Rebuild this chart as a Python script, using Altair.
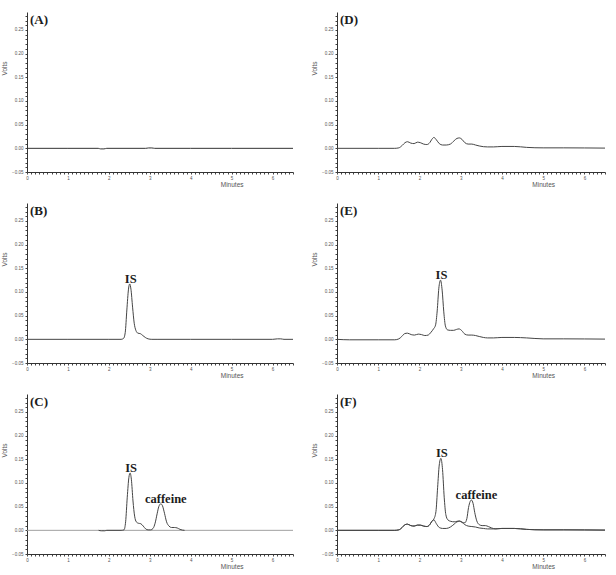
import altair as alt
import pandas as pd

# ---- chromatogram traces: retention time (min) and detector signal (V) ----
a_time = [0.0, 1.0, 1.74, 1.8, 1.88, 1.95, 2.9, 2.97, 3.05, 3.12, 4.0, 5.0, 6.5]
a_volts = [0.0, 0.0, 0.0, -0.0012, -0.0012, 0.0, 0.0, 0.0008, 0.0008, 0.0, 0.0, 0.0, 0.0]

b_time = [0.0, 1.0, 2.0, 2.3, 2.36, 2.4, 2.44, 2.48, 2.51, 2.54, 2.58, 2.62, 2.66, 2.71,
          2.77, 2.83, 2.89, 2.96, 3.05, 3.2, 4.0, 5.0, 6.0, 6.12, 6.2, 6.28, 6.5]
b_volts = [0.0, 0.0, 0.0, 0.0, 0.002, 0.014, 0.062, 0.106, 0.117, 0.106, 0.068, 0.034, 0.019, 0.013,
           0.012, 0.008, 0.004, 0.001, 0.0, 0.0, 0.0, 0.0, 0.0, 0.001, 0.001, 0.0, 0.0]

c_base_time = [0.0, 6.5]
c_base_volts = [0.0, 0.0]
c_time = [1.75, 1.82, 1.9, 1.95, 2.3, 2.37, 2.41, 2.45, 2.49, 2.52, 2.55, 2.59, 2.63, 2.67, 2.72,
          2.78, 2.84, 2.9, 2.96, 3.02, 3.08, 3.13, 3.18, 3.22, 3.27, 3.31, 3.36, 3.41, 3.47, 3.53,
          3.6, 3.67, 3.74, 3.8, 3.85]
c_volts = [0.0, -0.001, -0.001, 0.0, 0.0, 0.001, 0.018, 0.07, 0.112, 0.121, 0.108, 0.062, 0.03, 0.018, 0.015,
           0.014, 0.009, 0.003, 0.001, 0.001, 0.004, 0.015, 0.035, 0.05, 0.056, 0.052, 0.036, 0.018, 0.009, 0.006,
           0.006, 0.005, 0.002, 0.0005, 0.0]

d_time = [0.0, 1.0, 1.4, 1.5, 1.58, 1.65, 1.71, 1.79, 1.87, 1.95, 2.02, 2.1, 2.18, 2.25, 2.3,
          2.35, 2.41, 2.48, 2.56, 2.65, 2.75, 2.84, 2.91, 2.97, 3.03, 3.1, 3.18, 3.27, 3.36, 3.45,
          3.55, 3.65, 3.8, 4.0, 4.3, 4.6, 5.0, 5.5, 6.0, 6.5]
d_volts = [0.0, 0.0, 0.0, 0.001, 0.006, 0.012, 0.014, 0.011, 0.01, 0.013, 0.012, 0.009, 0.008, 0.012, 0.019,
           0.023, 0.018, 0.01, 0.007, 0.007, 0.009, 0.016, 0.021, 0.022, 0.019, 0.012, 0.009, 0.009, 0.007, 0.005,
           0.0035, 0.003, 0.003, 0.004, 0.004, 0.002, 0.001, 0.001, 0.0008, 0.0005]

e_time = [0.0, 0.3, 1.0, 1.4, 1.5, 1.57, 1.64, 1.71, 1.8, 1.88, 1.97, 2.05, 2.13, 2.21, 2.28,
          2.34, 2.39, 2.43, 2.47, 2.51, 2.55, 2.59, 2.63, 2.68, 2.75, 2.83, 2.9, 2.96, 3.03, 3.1,
          3.18, 3.27, 3.36, 3.45, 3.55, 3.65, 3.8, 4.0, 4.3, 4.6, 5.0, 5.5, 6.0, 6.5]
e_volts = [0.0, -0.001, -0.001, -0.001, 0.001, 0.006, 0.012, 0.013, 0.01, 0.009, 0.011, 0.01, 0.008, 0.009, 0.015,
           0.022, 0.03, 0.06, 0.108, 0.125, 0.104, 0.058, 0.028, 0.02, 0.019, 0.019, 0.021, 0.022, 0.018, 0.011,
           0.009, 0.009, 0.008, 0.006, 0.004, 0.003, 0.003, 0.004, 0.004, 0.003, 0.001, 0.001, 0.0008, 0.0005]

# blank plasma run overlaid on the spiked run
f_blank_time = [0.0, 1.0, 1.4, 1.5, 1.58, 1.65, 1.71, 1.79, 1.87, 1.95, 2.02, 2.1, 2.18, 2.25, 2.3,
                2.35, 2.41, 2.48, 2.56, 2.65, 2.75, 2.84, 2.91, 2.97, 3.03, 3.1, 3.18, 3.27, 3.36, 3.45,
                3.55, 3.65, 3.8, 4.0, 4.3, 4.6, 5.0, 5.5, 6.0, 6.5]
f_blank_volts = [0.0, 0.0, 0.0, 0.001, 0.006, 0.012, 0.013, 0.01, 0.009, 0.011, 0.011, 0.009, 0.008, 0.012, 0.019,
                 0.022, 0.014, 0.006, 0.004, 0.004, 0.007, 0.013, 0.018, 0.019, 0.017, 0.012, 0.009, 0.008, 0.007, 0.005,
                 0.004, 0.003, 0.003, 0.004, 0.004, 0.002, 0.001, 0.001, 0.0008, 0.0005]
f_spiked_time = [0.0, 1.0, 1.4, 1.5, 1.58, 1.65, 1.71, 1.79, 1.87, 1.95, 2.02, 2.1, 2.18, 2.25, 2.3,
                 2.35, 2.4, 2.44, 2.48, 2.52, 2.56, 2.6, 2.64, 2.69, 2.76, 2.84, 2.91, 2.97, 3.04, 3.1,
                 3.15, 3.19, 3.23, 3.26, 3.3, 3.34, 3.39, 3.45, 3.52, 3.6, 3.67, 3.75, 3.85, 4.0, 4.3,
                 4.6, 5.0, 5.5, 6.0, 6.5]
f_spiked_volts = [0.0, 0.0, 0.0, 0.001, 0.006, 0.012, 0.013, 0.01, 0.009, 0.011, 0.011, 0.009, 0.008, 0.012, 0.019,
                  0.024, 0.04, 0.09, 0.138, 0.152, 0.128, 0.07, 0.033, 0.022, 0.019, 0.018, 0.019, 0.02, 0.017, 0.016,
                  0.025, 0.048, 0.061, 0.064, 0.057, 0.038, 0.02, 0.012, 0.01, 0.01, 0.008, 0.005, 0.003, 0.004, 0.004,
                  0.002, 0.001, 0.001, 0.0008, 0.0005]

panel_tags = ["(A)", "(B)", "(C)", "(D)", "(E)", "(F)"]

# ---- layout / style ----
PLOT_H = 160
COL_W = [266, 268]
X_MAX = 6.5
Y_DOM = [-0.05, 0.288]
LINE = "#454545"
LIGHT = "#a0a0a0"
INK = "#1c1c1c"
AXIS_GREY = "#555555"

x_ticks = [round(i * 0.1, 1) for i in range(66)]
y_ticks = [round(-0.05 + i * 0.01, 2) for i in range(34)]

# horizontal nudges (px) of the peak names relative to the apex
LABEL_DX = {"IS": 1, "caffeine": 5}


def apex(times, volts, lo, hi):
    best = max((v, t) for t, v in zip(times, volts) if lo <= t <= hi)
    return best[1], best[0]


def panel(tag, traces, peaks, width):
    x_axis = alt.Axis(
        values=x_ticks, grid=False, tickSize=2, tickColor="#444", domainColor="#333",
        labelExpr="abs(round(datum.value) - datum.value) < 0.001 ? format(datum.value, 'd') : ''",
        labelFontSize=4.5, labelColor=AXIS_GREY, labelPadding=1, labelOverlap=False, labelFlush=False,
        title="Minutes", titleFontSize=6.5, titleFontWeight="normal", titleColor=AXIS_GREY,
        titleX=width * 5 / X_MAX, titleY=12, titleAlign="center", titleBaseline="middle",
    )
    y_axis = alt.Axis(
        values=y_ticks, grid=False, tickSize=2, tickColor="#444", domainColor="#333",
        labelExpr="abs(round(datum.value * 20) - datum.value * 20) < 0.001 ? format(datum.value, '.2f') : ''",
        labelFontSize=4.5, labelColor=AXIS_GREY, labelPadding=2, labelOverlap=False, labelFlush=False,
        title="Volts", titleFontSize=6.5, titleFontWeight="normal", titleColor=AXIS_GREY,
        titleX=-23, titleY=56, titleAngle=-90, titleAlign="center", titleBaseline="middle",
    )
    x_enc = alt.X("t:Q", scale=alt.Scale(domain=[0, X_MAX], nice=False, zero=False), axis=x_axis)
    y_enc = alt.Y("v:Q", scale=alt.Scale(domain=Y_DOM, nice=False, zero=False), axis=y_axis)

    layers = []
    for times, volts, color in traces:
        df = pd.DataFrame({"t": times, "v": volts})
        layers.append(
            alt.Chart(df).mark_line(color=color, strokeWidth=1, interpolate="monotone")
            .encode(x=x_enc, y=y_enc)
        )
    for name, (pt, pv) in peaks:
        df = pd.DataFrame({"t": [pt], "v": [pv], "name": [name]})
        layers.append(
            alt.Chart(df).mark_text(
                font="Liberation Serif", fontWeight="bold", fontSize=12.5, color=INK,
                align="center", baseline="alphabetic", dx=LABEL_DX[name], dy=-1,
            ).encode(x=x_enc, y=y_enc, text="name:N")
        )
    tag_df = pd.DataFrame({"tag": [tag]})
    layers.append(
        alt.Chart(tag_df).mark_text(
            font="Liberation Serif", fontWeight="bold", fontSize=13, color=INK,
            align="left", baseline="middle",
        ).encode(x=alt.value(3), y=alt.value(8), text="tag:N")
    )
    return alt.layer(*layers).properties(width=width, height=PLOT_H)


pA = panel(panel_tags[0], [(a_time, a_volts, "#333333")], [], COL_W[0])
pB = panel(panel_tags[1], [(b_time, b_volts, LINE)],
           [("IS", apex(b_time, b_volts, 2.3, 2.8))], COL_W[0])
pC = panel(panel_tags[2], [(c_base_time, c_base_volts, LIGHT), (c_time, c_volts, LINE)],
           [("IS", apex(c_time, c_volts, 2.3, 2.8)),
            ("caffeine", apex(c_time, c_volts, 3.1, 3.5))], COL_W[0])
pD = panel(panel_tags[3], [(d_time, d_volts, LINE)], [], COL_W[1])
pE = panel(panel_tags[4], [(e_time, e_volts, LINE)],
           [("IS", apex(e_time, e_volts, 2.3, 2.8))], COL_W[1])
pF = panel(panel_tags[5], [(f_blank_time, f_blank_volts, LINE), (f_spiked_time, f_spiked_volts, LINE)],
           [("IS", apex(f_spiked_time, f_spiked_volts, 2.3, 2.8)),
            ("caffeine", apex(f_spiked_time, f_spiked_volts, 3.1, 3.5))], COL_W[1])

# two-column grid: A/D, B/E, C/F
chart = (
    alt.concat(pA, pD, pB, pE, pC, pF, columns=2, spacing={"row": 31, "column": 44}, bounds="flush")
    .properties(padding={"left": 1, "top": 12, "right": 4, "bottom": 4}, background="white")
    .configure_view(stroke=None)
)

chart.save("out.html", embed_options={"renderer": "svg", "actions": False})
